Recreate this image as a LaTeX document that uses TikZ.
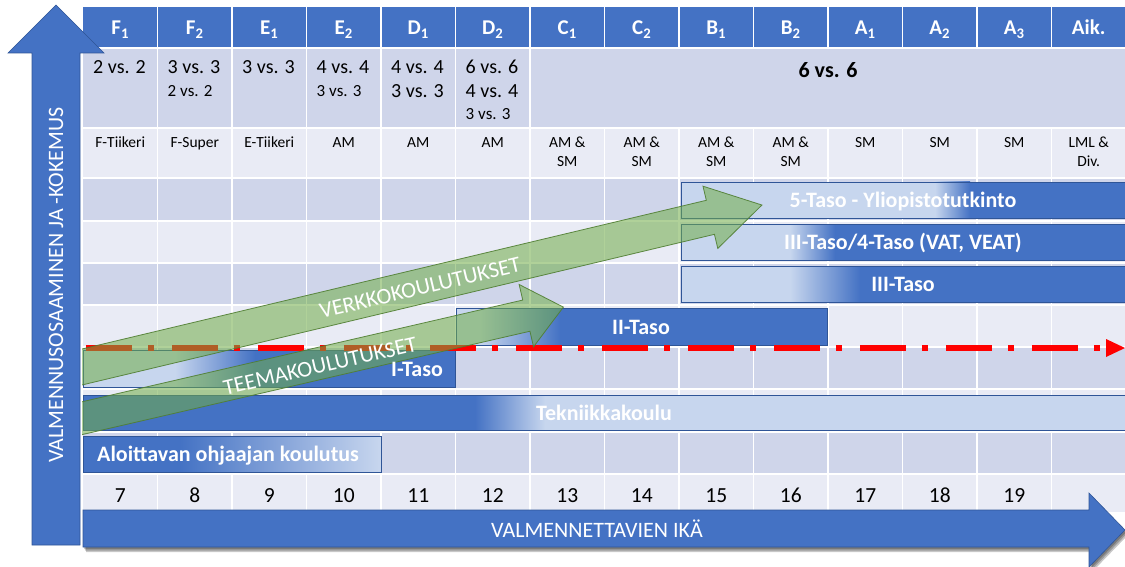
\documentclass[tikz,border=0pt]{standalone}
\usepackage{fontspec}
\setmainfont{Carlito}
\definecolor{hdrblue}{HTML}{4472C4}
\definecolor{rowdark}{HTML}{CFD5EA}
\definecolor{rowlight}{HTML}{E9EBF5}
\definecolor{barpale}{HTML}{C7D6EE}
\definecolor{baredge}{HTML}{2F5597}
\definecolor{arrowgreen}{HTML}{70AD47}
\definecolor{arrowedge}{HTML}{507E32}
\definecolor{redline}{HTML}{FF0000}

\newcommand\fsz[1]{\fontsize{#1}{#1}\selectfont}

% gradient bar: x0, x1, y0, y1, fade start, fade end, left colour, right colour
\newcommand\gbar[8]{%
  \fill[#7] (#1,#3) rectangle (#5+0.5,#4);
  \shade[left color=#7,right color=#8] (#5,#3) rectangle (#6,#4);
  \fill[#8] (#6-0.5,#3) rectangle (#2,#4);
  \draw[barframe] (#1,#3) rectangle (#2,#4);}

\tikzset{
  gridline/.style={white, line width=1.6pt},
  hdrtext/.style={text=white, font=\fsz{21}\bfseries, anchor=base, inner sep=0pt},
  vstext/.style={font=\fsz{20}, anchor=base west, inner sep=0pt},
  vssmall/.style={font=\fsz{17}, anchor=base west, inner sep=0pt},
  clubtext/.style={font=\fsz{15.5}, anchor=base, inner sep=0pt},
  agetext/.style={font=\fsz{21.5}, anchor=base, inner sep=0pt},
  bartext/.style={text=white, font=\fsz{22}\bfseries, anchor=base, inner sep=0pt},
  barframe/.style={draw=baredge, line width=0.8pt},
  greenarrow/.style={fill=arrowgreen, fill opacity=0.55, draw=arrowedge, draw opacity=0.9, line width=0.8pt},
  arrowtext/.style={text=white, font=\fsz{22.5}, anchor=center, inner sep=0pt},
  axisarrow/.style={fill=hdrblue, draw=baredge, line width=0.6pt},
  axistext/.style={text=white, font=\fsz{22}, anchor=center, inner sep=0pt}
}

\begin{document}
\begin{tikzpicture}[x=1pt,y=-1pt]
\useasboundingbox (0,0) rectangle (1125,567);

% ---- table bands ----
\fill[hdrblue] (83,7) rectangle (1125,48);
\fill[rowdark] (83,48) rectangle (1125,128);
\fill[rowlight] (83,128) rectangle (1125,178);
\foreach \ya/\yb/\c in {178/221/rowdark, 221/263/rowlight, 263/305/rowdark,
    305/347/rowlight, 347/389/rowdark, 389/432/rowlight, 432/474/rowdark, 474/512/rowlight}
  \fill[\c] (83,\ya) rectangle (1125,\yb);

% ---- grid ----
\foreach \y in {48,128,178,221,263,305,347,389,432,474}
  \draw[gridline] (83,\y) -- (1125,\y);
\foreach \k in {1,...,13} {
  \draw[gridline] (83+74.5*\k,7) -- (83+74.5*\k,48);
  \draw[gridline] (83+74.5*\k,128) -- (83+74.5*\k,512);
}
\foreach \k in {1,...,6}
  \draw[gridline] (83+74.5*\k,48) -- (83+74.5*\k,128);

% ---- header ----
\foreach \t [count=\i from 0] in {F\textsubscript{1},F\textsubscript{2},E\textsubscript{1},E\textsubscript{2},
    D\textsubscript{1},D\textsubscript{2},C\textsubscript{1},C\textsubscript{2},B\textsubscript{1},
    B\textsubscript{2},A\textsubscript{1},A\textsubscript{2},A\textsubscript{3},Aik.}
  \node[hdrtext] (h\i) at (83+74.5*\i+37.25,35) {\t};

% ---- game formats ----
\node[vstext]  (v0a) at (93,74) {2 vs. 2};
\node[vstext]  (v1a) at (167.5,74) {3 vs. 3};
\node[vssmall] (v1b) at (167.5,97) {2 vs. 2};
\node[vstext]  (v2a) at (242,74) {3 vs. 3};
\node[vstext]  (v3a) at (316.5,74) {4 vs. 4};
\node[vssmall] (v3b) at (316.5,97) {3 vs. 3};
\node[vstext]  (v4a) at (391,74) {4 vs. 4};
\node[vstext]  (v4b) at (391,98) {3 vs. 3};
\node[vstext]  (v5a) at (465.5,74) {6 vs. 6};
\node[vstext]  (v5b) at (465.5,98) {4 vs. 4};
\node[vssmall] (v5c) at (465.5,120) {3 vs. 3};
\node[font=\fsz{22}\bfseries, anchor=base, inner sep=0pt] (vall) at (828,78) {6 vs. 6};

% ---- series ----
\foreach \t [count=\i from 0] in {F-Tiikeri,F-Super,E-Tiikeri,AM,AM,AM,AM \&,AM \&,AM \&,AM \&,SM,SM,SM,LML \&}
  \node[clubtext] (c\i) at (83+74.5*\i+37.25,148) {\t};
\foreach \i in {6,...,9}
  \node[clubtext] (cs\i) at (83+74.5*\i+37.25,167) {SM};
\node[clubtext] (cs13) at (83+74.5*13+37.25,167) {Div.};

% ---- ages ----
\foreach \a [count=\i from 0] in {7,...,19}
  \node[agetext] (age\a) at (83+74.5*\i+37.25,502) {\a};

% ---- education bars ----
\gbar{681}{1125}{182}{218}{935}{970}{barpale}{hdrblue}
\gbar{681}{1125}{224}{260}{790}{835}{barpale}{hdrblue}
\gbar{681}{1125}{266}{302}{790}{860}{barpale}{hdrblue}
\gbar{456}{827}{308}{345}{480}{560}{barpale}{hdrblue}
\gbar{83}{455}{350}{387}{175}{255}{barpale}{hdrblue}
\gbar{83}{1125}{395}{430}{475}{545}{hdrblue}{barpale}
\gbar{83}{381}{436}{472}{180}{380}{hdrblue}{barpale}

% ---- dash-dot threshold line ----
\draw[redline, line width=6pt, dash pattern=on 46pt off 16pt on 6pt off 18pt] (86,348) -- (1106,348);
\fill[redline] (1106,339) -- (1125,348) -- (1106,357) -- cycle;

% ---- green arrows ----
\begin{scope}
  \clip (82,0) rectangle (1125,567);
  \begin{scope}[shift={(82,367)}, rotate=13.4]
    \filldraw[greenarrow] (-40,-17.5) -- (646,-17.5) -- (646,-32) -- (699,0)
      -- (646,32) -- (646,17.5) -- (-40,17.5) -- cycle;
  \end{scope}
  \begin{scope}[shift={(83,418)}, rotate=13.0]
    \filldraw[greenarrow] (-40,-16) -- (455,-16) -- (455,-32) -- (493,0)
      -- (455,32) -- (455,16) -- (-40,16) -- cycle;
  \end{scope}
\end{scope}
\node[arrowtext, rotate=13.4] (verkko) at (420,288) {VERKKOKOULUTUKSET};
\node[arrowtext, rotate=13.0] (teema) at (320,366) {TEEMAKOULUTUKSET};

% ---- bar labels ----
\node[bartext] (t5) at (903,207.5) {5-Taso - Yliopistotutkinto};
\node[bartext] (t4) at (903,249.5) {III-Taso/4-Taso (VAT, VEAT)};
\node[bartext] (t3) at (903,291.5) {III-Taso};
\node[bartext] (t2) at (641,334) {II-Taso};
\node[bartext] (t1) at (417,376) {I-Taso};
\node[bartext] (tt) at (604,420) {Tekniikkakoulu};
\node[bartext, anchor=base west] (ta) at (97,461.5) {Aloittavan ohjaajan koulutus};

% ---- vertical axis arrow ----
\filldraw[axisarrow] (32,545) -- (32,53) -- (8,53) -- (56,5) -- (104,53) -- (80,53) -- (80,545) -- cycle;
\node[axistext, rotate=90] (yaxis) at (56,285) {VALMENNUSOSAAMINEN JA -KOKEMUS};

% ---- horizontal axis arrow with shadow ----
\foreach \s in {2,3.5,5}
  \fill[black, opacity=0.22, shift={(0.6*\s,\s)}] (83,510) -- (1089,510) -- (1089,493) -- (1125,530)
    -- (1089,567) -- (1089,547) -- (83,547) -- cycle;
\filldraw[axisarrow] (83,510) -- (1089,510) -- (1089,493) -- (1125,530) -- (1089,567) -- (1089,547) -- (83,547) -- cycle;
\node[axistext] (xaxis) at (597,529) {VALMENNETTAVIEN IKÄ};
\end{tikzpicture}
\end{document}
